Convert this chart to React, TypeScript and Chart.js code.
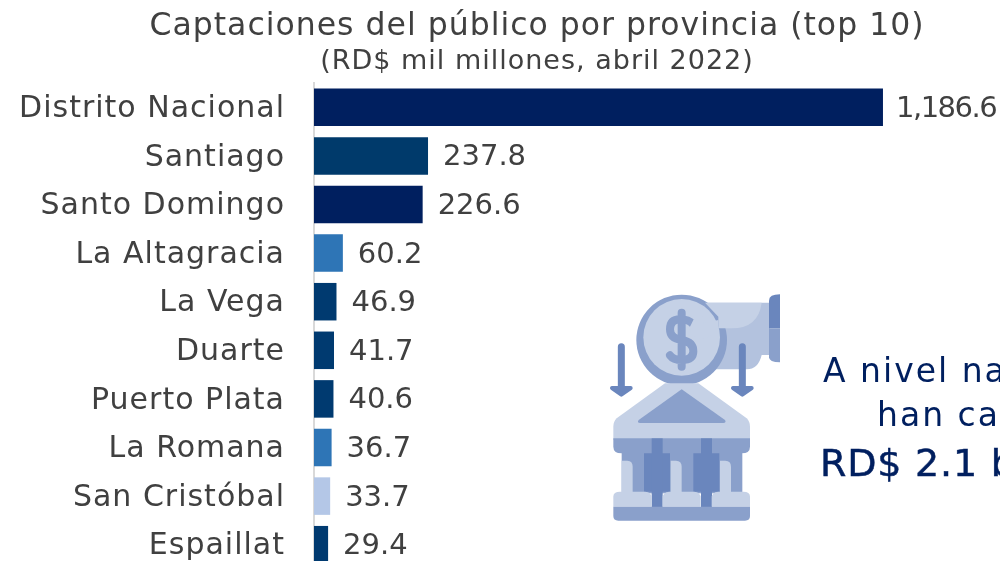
import React, { useEffect, useRef } from "react";
import { Chart, registerables } from "chart.js";

Chart.register(...registerables);

const provinces = ["Distrito Nacional", "Santiago", "Santo Domingo", "La Altagracia", "La Vega", "Duarte", "Puerto Plata", "La Romana", "San Cristóbal", "Espaillat"];
const deposits = [1186.6, 237.8, 226.6, 60.2, 46.9, 41.7, 40.6, 36.7, 33.7, 29.4];
const barColors = ["#001f5f", "#003a6b", "#001f5f", "#2e75b6", "#003a70", "#003a70", "#003a70", "#2e75b6", "#b4c7e7", "#003a70"];
const titleText = "Captaciones del público por provincia (top 10)";
const subtitleText = "(RD$ mil millones, abril 2022)";
const FONT = "'DejaVu Sans', sans-serif";
const TEXT = "#404040";

const spacing = {
  id: "spacing",
  beforeDraw(chart: any) {
    chart.ctx.letterSpacing = "1px";
  },
};

const valueLabels = {
  id: "valueLabels",
  afterDatasetsDraw(chart: any) {
    const { ctx } = chart;
    const meta = chart.getDatasetMeta(0);
    ctx.save();
    ctx.font = `400 29px ${FONT}`;
    ctx.fillStyle = TEXT;
    ctx.textBaseline = "middle";
    ctx.textAlign = "left";
    meta.data.forEach((bar: any, i: number) => {
      const v = deposits[i].toLocaleString("en-US", { minimumFractionDigits: 1, maximumFractionDigits: 1 });
      ctx.letterSpacing = deposits[i] >= 1000 ? "-1.5px" : "0px";
      ctx.fillText(v, bar.x + (deposits[i] >= 1000 ? 13 : 15), bar.y + 2);
    });
    ctx.restore();
  },
};

function BankIcon() {
  const light = "#c5d1e6", mid = "#8aa0cb", dark = "#6a86bd", hand = "#b3c2de";
  return (
    <svg viewBox="0 0 1230 780" width={410} height={260} style={{ position: "absolute", left: 590, top: 280 }}>
      <path d="M345 68H540V225H515Q505 268 470 268H360Z" fill={hand} />
      <circle cx={275} cy={180} r={136} fill={mid} />
      <circle cx={275} cy={172} r={115} fill={light} />
      <path d="M345 68H515Q505 145 425 145H385V110Z" fill={light} />
      <path d="M537 145V62Q537 43 570 43V145Z" fill={dark} />
      <path d="M537 145V232Q537 247 570 247V145Z" fill={mid} />
      <path d="M275 98V260M308 132Q296 118 270 118Q240 118 240 148Q240 176 275 180Q310 186 310 214Q310 240 275 240Q250 240 240 226" fill="none" stroke={mid} strokeWidth={24} strokeLinecap="round" />
      <path d="M345 75L330 100Q348 118 340 130L385 120V145Q360 178 330 175Q295 165 300 140L310 120Z" fill={light} />
      <path d="M94 200V320M457 200V320" stroke={dark} strokeWidth={21} strokeLinecap="round" />
      <path d="M66 324H122L94 344ZM429 324H485L457 344Z" fill={dark} stroke={dark} strokeWidth={12} strokeLinejoin="round" />
      <path d="M225 310H325L470 415Q480 425 480 440V480H70V440Q70 425 80 415Z" fill={light} />
      <path d="M275 328L405 420Q410 428 400 429H150Q140 428 146 420Z" fill={mid} />
      <rect x={95} y={500} width={362} height={140} fill={mid} />
      <path d="M70 475H480V500Q480 520 455 520H95Q70 520 70 500Z" fill={mid} />
      <path d="M162 520H240V635H162Z" fill={dark} />
      <path d="M310 520H388V635H310Z" fill={dark} />
      <rect x={185} y={475} width={33} height={210} fill={dark} />
      <rect x={333} y={475} width={33} height={210} fill={dark} />
      <path d="M95 542H112Q128 542 128 560V637H95Z" fill={light} />
      <path d="M242 542H258Q275 542 275 560V637H242Z" fill={light} />
      <path d="M390 542H406Q423 542 423 560V637H390Z" fill={light} />
      <path d="M70 680V650Q70 635 90 635H165Q185 635 185 655V680Z" fill={light} />
      <path d="M218 680V655Q218 635 238 635H312Q332 635 332 655V680Z" fill={light} />
      <path d="M365 680V655Q365 635 385 635H460Q480 635 480 650V680Z" fill={light} />
      <path d="M70 680H480V708Q480 722 465 722H85Q70 722 70 708Z" fill={mid} />
    </svg>
  );
}

export default function App() {
  const ref = useRef<HTMLCanvasElement>(null);
  useEffect(() => {
    const chart = new Chart(ref.current!, {
      type: "bar",
      data: {
        labels: provinces,
        datasets: [{
          data: deposits,
          backgroundColor: barColors,
          categoryPercentage: 1,
          barPercentage: 0.772,
        }],
      },
      options: {
        animation: false,
        responsive: false,
        indexAxis: "y",
        layout: { autoPadding: false, padding: 0 },
        plugins: {
          legend: { display: false },
          tooltip: { enabled: false },
          title: { display: true, text: titleText, color: TEXT, font: { family: FONT, size: 31.5, weight: "400" }, padding: { top: 8, bottom: 0 } },
          subtitle: { display: true, text: subtitleText, color: TEXT, font: { family: FONT, size: 27, weight: "400" }, padding: { top: 0, bottom: 4.8 } },
        },
        scales: {
          x: { display: false, min: 0, max: 1585 },
          y: {
            grid: { display: false, drawTicks: false },
            border: { display: true, color: "#d9d9d9", width: 2 },
            afterFit(scale: any) { scale.width = 314; },
            ticks: { color: TEXT, font: { family: FONT, size: 30 }, padding: 29, autoSkip: false, labelOffset: 2 },
          },
        },
      } as any,
      plugins: [spacing, valueLabels],
    });
    return () => chart.destroy();
  }, []);

  const line = (top: number, left: number, text: string, size: number, ls: number, stroke = 0): React.ReactElement => (
    <div style={{ position: "absolute", left, top, fontFamily: FONT, fontSize: size, fontWeight: 400, letterSpacing: ls, color: "#001f5f", whiteSpace: "nowrap", lineHeight: "44px", WebkitTextStroke: `${stroke}px #001f5f` }}>{text}</div>
  );

  return (
    <div style={{ position: "fixed", left: 0, top: 0, width: 1000, height: 561, overflow: "hidden", background: "#fff" }}>
      <canvas ref={ref} width={1074} height={616} style={{ position: "absolute", left: 0, top: 0 }} />
      <BankIcon />
      {line(349, 823, "A nivel nacional", 33, 2)}
      {line(393, 877, "han captado", 33, 2)}
      {line(441, 820, "RD$ 2.1 billones", 38, 0.8, 0.5)}
    </div>
  );
}
